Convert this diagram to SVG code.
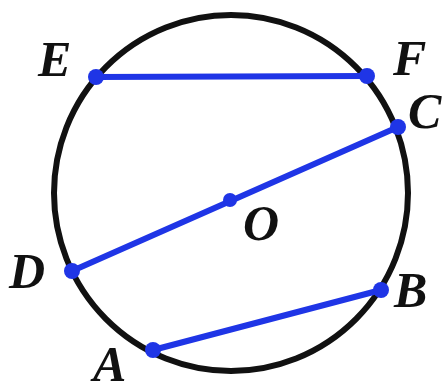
<svg xmlns="http://www.w3.org/2000/svg" width="442" height="392" viewBox="0 0 442 392">
<style>
.lbl{font-family:"Liberation Serif","Times New Roman",serif;font-style:italic;font-weight:bold;font-size:50px;fill:#111}
.chord{stroke:#1f35e6;stroke-width:6;stroke-linecap:round;fill:none}
.pt{fill:#1f35e6}
</style>
<rect width="442" height="392" fill="#fff"/>
<ellipse id="circle" cx="231" cy="193" rx="177" ry="178" fill="none" stroke="#111" stroke-width="6"/>
<g id="connectors">
<line class="chord" x1="96" y1="77" x2="367" y2="76"/>
<line class="chord" x1="72" y1="271" x2="398" y2="127"/>
<line class="chord" x1="153" y1="350" x2="381" y2="290"/>
</g>
<g id="E"><circle class="pt" cx="96" cy="77" r="8"/><text class="lbl" x="38" y="76">E</text></g>
<g id="F"><circle class="pt" cx="367" cy="76" r="8"/><text class="lbl" x="393" y="75">F</text></g>
<g id="C"><circle class="pt" cx="398" cy="127" r="8"/><text class="lbl" x="408" y="128">C</text></g>
<g id="O"><circle class="pt" cx="230" cy="200" r="7"/><text class="lbl" x="243" y="240">O</text></g>
<g id="D"><circle class="pt" cx="72" cy="271" r="8"/><text class="lbl" x="9" y="288">D</text></g>
<g id="B"><circle class="pt" cx="381" cy="290" r="8"/><text class="lbl" x="394" y="307">B</text></g>
<g id="A"><circle class="pt" cx="153" cy="350" r="8"/><text class="lbl" x="93" y="381">A</text></g>
</svg>
